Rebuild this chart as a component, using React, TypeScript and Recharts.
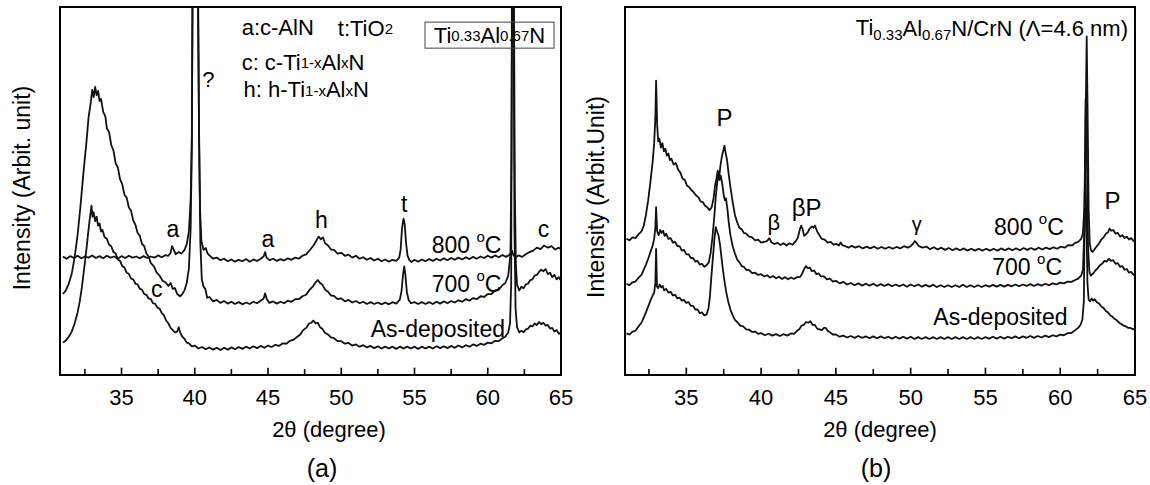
import React from "react";
import {
  Line,
  LineChart,
  ReferenceArea,
  ReferenceDot,
  ReferenceLine,
  XAxis,
  YAxis,
} from "recharts";

const FONT = '"Liberation Sans", Arial, Helvetica, sans-serif';

type Pt = [number, number];

// 2θ tick marks (degrees)
const majorTicks = [35, 40, 45, 50, 55, 60, 65];
const minorTicks = [32.5, 37.5, 42.5, 47.5, 52.5, 57.5, 62.5];

// (a) Ti0.33Al0.67N — [2θ, intensity (arb.)]
const a800: Pt[] = [
  [31.0, 32.2], [31.25, 31.6], [31.5, 32.3], [31.75, 31.8], [32.0, 32.4], [32.25, 31.7], [32.5, 32.2], [32.75, 31.9],
  [33.0, 32.5], [33.25, 31.8], [33.5, 32.3], [33.75, 31.7], [34.0, 32.4], [34.25, 31.9], [34.5, 32.2], [34.75, 31.6],
  [35.0, 32.3], [35.25, 31.8], [35.5, 32.4], [35.75, 31.9], [36.0, 32.2], [36.25, 31.7], [36.5, 32.3], [36.75, 31.8],
  [37.0, 32.2], [37.25, 31.9], [37.5, 32.5], [37.75, 32.0], [38.0, 32.6], [38.2, 32.4], [38.35, 33.2], [38.45, 35.0],
  [38.55, 34.2], [38.7, 32.8], [38.9, 33.4], [39.1, 33.0], [39.3, 34.0], [39.45, 35.5], [39.6, 39.0], [39.72, 48.0],
  [39.8, 65.0], [39.86, 110], [40.2, 110], [40.28, 70], [40.36, 45], [40.45, 36.5], [40.6, 34.0], [40.75, 34.5],
  [40.85, 33.2], [41.0, 32.5], [41.25, 31.6], [41.5, 31.9], [41.75, 31.2], [42.0, 31.6], [42.25, 30.9], [42.5, 31.4],
  [42.75, 30.8], [43.0, 31.3], [43.25, 30.9], [43.5, 31.5], [43.75, 30.8], [44.0, 31.4], [44.25, 31.0], [44.5, 31.6],
  [44.7, 32.2], [44.8, 33.4], [44.9, 31.9], [45.1, 31.2], [45.35, 31.6], [45.6, 31.0], [45.85, 31.5], [46.1, 31.1],
  [46.35, 31.7], [46.6, 31.3], [46.85, 31.9], [47.1, 31.6], [47.35, 32.4], [47.6, 32.8], [47.85, 33.9], [48.1, 35.2],
  [48.3, 36.5], [48.45, 37.6], [48.6, 36.9], [48.75, 37.4], [48.9, 35.8], [49.1, 35.2], [49.3, 34.1], [49.5, 34.0],
  [49.75, 33.0], [50.0, 33.2], [50.25, 32.4], [50.5, 32.7], [50.75, 31.9], [51.0, 32.4], [51.25, 31.6], [51.5, 32.0],
  [51.75, 31.3], [52.0, 31.8], [52.25, 31.1], [52.5, 31.6], [52.75, 30.9], [53.0, 31.4], [53.25, 30.8], [53.5, 31.3],
  [53.75, 31.0], [53.95, 31.8], [54.05, 34.0], [54.15, 40.0], [54.25, 42.5], [54.33, 41.0], [54.42, 36.0], [54.52, 32.5],
  [54.65, 31.2], [54.8, 30.7], [55.0, 31.3], [55.25, 30.8], [55.5, 31.4], [55.75, 30.9], [56.0, 31.5], [56.25, 31.0],
  [56.5, 31.6], [56.75, 31.1], [57.0, 31.7], [57.25, 31.2], [57.5, 31.8], [57.75, 31.3], [58.0, 31.9], [58.25, 31.4],
  [58.5, 32.0], [58.75, 31.5], [59.0, 32.1], [59.25, 31.6], [59.5, 32.2], [59.75, 31.8], [60.0, 32.4], [60.25, 31.9],
  [60.5, 32.5], [60.75, 32.0], [61.0, 32.6], [61.25, 32.1], [61.5, 32.7], [61.65, 33.8], [61.75, 32.6], [61.9, 32.0],
  [62.1, 32.5], [62.35, 32.1], [62.6, 32.8], [62.85, 33.4], [63.1, 33.8], [63.35, 34.6], [63.6, 34.2], [63.85, 35.2],
  [64.1, 34.6], [64.35, 35.0], [64.6, 34.1], [64.85, 34.6], [65.0, 34.2],
];

const a700: Pt[] = [
  [31.0, 22.0], [31.2, 23.0], [31.4, 24.8], [31.6, 27.5], [31.8, 32.0], [32.0, 38.0], [32.2, 46.0], [32.4, 55.0],
  [32.6, 63.0], [32.75, 70.0], [32.9, 74.0], [33.0, 77.5], [33.1, 75.5], [33.2, 78.3], [33.3, 76.0], [33.4, 77.2],
  [33.5, 74.5], [33.6, 75.0], [33.75, 71.5], [33.9, 70.2], [34.0, 67.0], [34.15, 66.0], [34.3, 62.5], [34.45, 61.0],
  [34.6, 57.5], [34.75, 56.4], [34.9, 53.2], [35.05, 51.8], [35.2, 49.0], [35.35, 48.2], [35.5, 45.5], [35.65, 44.6],
  [35.8, 42.0], [35.95, 40.8], [36.1, 38.6], [36.25, 37.8], [36.4, 35.6], [36.55, 35.0], [36.7, 33.0], [36.85, 32.2],
  [37.0, 30.4], [37.2, 29.6], [37.4, 27.8], [37.6, 27.0], [37.8, 25.6], [38.0, 25.2], [38.2, 24.2], [38.35, 25.0],
  [38.5, 23.4], [38.65, 23.6], [38.8, 22.0], [39.0, 21.4], [39.15, 22.0], [39.3, 23.0], [39.45, 25.0], [39.6, 29.0],
  [39.72, 40.0], [39.8, 62.0], [39.85, 110], [40.22, 110], [40.3, 62], [40.38, 36], [40.48, 26.0], [40.6, 24.0],
  [40.72, 23.4], [40.85, 21.0], [41.0, 21.2], [41.25, 20.0], [41.5, 20.4], [41.75, 19.6], [42.0, 20.1], [42.25, 19.4],
  [42.5, 19.9], [42.75, 19.3], [43.0, 19.8], [43.25, 19.2], [43.5, 19.7], [43.75, 19.3], [44.0, 19.9], [44.25, 19.5],
  [44.5, 20.2], [44.7, 20.8], [44.8, 22.2], [44.92, 20.6], [45.1, 19.6], [45.35, 20.0], [45.6, 19.4], [45.85, 19.9],
  [46.1, 19.5], [46.35, 20.2], [46.6, 19.9], [46.85, 20.6], [47.1, 20.6], [47.35, 21.4], [47.6, 21.8], [47.85, 23.2],
  [48.05, 24.0], [48.25, 25.2], [48.4, 25.8], [48.55, 25.0], [48.7, 24.6], [48.9, 23.2], [49.1, 22.6], [49.3, 21.6],
  [49.5, 21.5], [49.75, 20.6], [50.0, 20.8], [50.25, 20.0], [50.5, 20.4], [50.75, 19.7], [51.0, 20.1], [51.25, 19.5],
  [51.5, 19.9], [51.75, 19.3], [52.0, 19.8], [52.25, 19.3], [52.5, 19.7], [52.75, 19.2], [53.0, 19.7], [53.25, 19.2],
  [53.5, 19.8], [53.75, 19.4], [54.0, 20.5], [54.12, 23.0], [54.22, 27.5], [54.3, 29.5], [54.38, 27.0], [54.48, 22.5],
  [54.6, 20.4], [54.75, 19.5], [55.0, 19.8], [55.25, 19.3], [55.5, 19.8], [55.75, 19.3], [56.0, 19.8], [56.25, 19.3],
  [56.5, 19.9], [56.75, 19.4], [57.0, 20.0], [57.25, 19.5], [57.5, 20.1], [57.75, 19.7], [58.0, 20.3], [58.25, 19.9],
  [58.5, 20.6], [58.75, 20.2], [59.0, 20.9], [59.25, 20.6], [59.5, 21.4], [59.75, 21.2], [60.0, 22.0], [60.25, 22.0],
  [60.5, 23.0], [60.75, 23.2], [61.0, 24.4], [61.2, 25.0], [61.4, 27.0], [61.55, 33.0], [61.62, 60.0], [61.67, 110],
  [61.78, 110], [61.85, 50.0], [61.92, 30.0], [62.0, 24.5], [62.15, 23.0], [62.3, 24.0], [62.45, 23.6], [62.6, 24.6],
  [62.75, 24.8], [62.9, 25.8], [63.05, 26.0], [63.2, 27.0], [63.35, 27.2], [63.5, 28.0], [63.65, 28.6], [63.8, 28.2],
  [63.95, 28.8], [64.1, 27.4], [64.25, 27.8], [64.4, 26.6], [64.55, 27.2], [64.7, 26.0], [64.85, 26.6], [65.0, 25.6],
];

const aAsDep: Pt[] = [
  [31.0, 8.8], [31.2, 9.4], [31.4, 10.4], [31.6, 11.8], [31.8, 14.0], [32.0, 17.0], [32.15, 20.0], [32.3, 24.0],
  [32.45, 29.0], [32.6, 34.0], [32.72, 38.5], [32.82, 42.0], [32.9, 44.5], [32.95, 46.0], [33.02, 43.0], [33.1, 44.2],
  [33.2, 41.8], [33.3, 43.0], [33.4, 40.6], [33.5, 41.2], [33.6, 39.0], [33.7, 39.4], [33.85, 37.4], [34.0, 37.0],
  [34.15, 35.4], [34.3, 35.0], [34.45, 33.4], [34.6, 33.0], [34.75, 31.4], [34.9, 31.0], [35.05, 29.6], [35.2, 29.2],
  [35.35, 27.8], [35.5, 27.5], [35.65, 26.2], [35.8, 26.0], [35.95, 24.8], [36.1, 24.6], [36.25, 23.4], [36.4, 23.2],
  [36.55, 22.0], [36.7, 21.8], [36.85, 20.8], [37.0, 20.6], [37.15, 19.5], [37.3, 19.3], [37.45, 18.3], [37.6, 18.0],
  [37.75, 16.8], [37.9, 16.2], [38.05, 14.8], [38.2, 14.0], [38.35, 12.8], [38.5, 12.2], [38.65, 11.6], [38.8, 11.8],
  [38.9, 13.0], [39.0, 11.6], [39.15, 10.4], [39.3, 9.8], [39.45, 8.8], [39.6, 8.6], [39.8, 7.8], [40.0, 8.0],
  [40.25, 7.2], [40.5, 7.6], [40.75, 7.0], [41.0, 7.5], [41.25, 6.9], [41.5, 7.4], [41.75, 6.8], [42.0, 7.4],
  [42.25, 6.9], [42.5, 7.5], [42.75, 7.0], [43.0, 7.6], [43.25, 7.1], [43.5, 7.7], [43.75, 7.2], [44.0, 7.8],
  [44.25, 7.3], [44.5, 7.9], [44.75, 7.4], [45.0, 8.0], [45.25, 7.6], [45.5, 8.2], [45.75, 7.9], [46.0, 8.6],
  [46.25, 8.5], [46.5, 9.3], [46.75, 9.6], [47.0, 10.4], [47.2, 11.0], [47.4, 12.2], [47.6, 12.8], [47.8, 14.0],
  [47.95, 14.2], [48.1, 14.8], [48.25, 14.0], [48.4, 14.2], [48.55, 13.0], [48.7, 12.6], [48.9, 11.4], [49.1, 11.0],
  [49.3, 10.2], [49.5, 10.0], [49.75, 9.2], [50.0, 9.2], [50.25, 8.5], [50.5, 8.7], [50.75, 8.0], [51.0, 8.3],
  [51.25, 7.7], [51.5, 8.1], [51.75, 7.5], [52.0, 7.9], [52.25, 7.3], [52.5, 7.8], [52.75, 7.2], [53.0, 7.7],
  [53.25, 7.2], [53.5, 7.7], [53.75, 7.1], [54.0, 7.7], [54.25, 7.2], [54.5, 7.7], [54.75, 7.2], [55.0, 7.7],
  [55.25, 7.1], [55.5, 7.7], [55.75, 7.2], [56.0, 7.7], [56.25, 7.2], [56.5, 7.8], [56.75, 7.3], [57.0, 7.8],
  [57.25, 7.3], [57.5, 7.9], [57.75, 7.4], [58.0, 8.0], [58.25, 7.5], [58.5, 8.1], [58.75, 7.7], [59.0, 8.3],
  [59.25, 7.9], [59.5, 8.5], [59.75, 8.2], [60.0, 8.8], [60.25, 8.6], [60.5, 9.3], [60.75, 9.2], [61.0, 10.0],
  [61.2, 10.4], [61.4, 11.6], [61.52, 14.0], [61.6, 25.0], [61.65, 110], [61.76, 110], [61.82, 40.0], [61.9, 18.0],
  [62.0, 13.0], [62.15, 11.6], [62.3, 12.0], [62.45, 11.6], [62.6, 12.4], [62.75, 12.6], [62.9, 13.4], [63.05, 13.2],
  [63.2, 14.0], [63.35, 13.6], [63.5, 14.4], [63.65, 13.8], [63.8, 14.2], [63.95, 13.4], [64.1, 13.6], [64.25, 12.6],
  [64.4, 12.8], [64.55, 11.8], [64.7, 12.2], [64.85, 11.2], [65.0, 11.6],
];

// (b) Ti0.33Al0.67N/CrN (Λ=4.6 nm)
const b800: Pt[] = [
  [31.0, 37.0], [31.2, 36.6], [31.4, 37.4], [31.6, 37.2], [31.8, 38.2], [32.0, 39.0], [32.15, 40.5], [32.3, 43.5],
  [32.45, 47.5], [32.6, 52.5], [32.75, 58.0], [32.85, 63.0], [32.93, 70.0], [32.98, 80.0], [33.05, 68.0], [33.12, 63.5],
  [33.2, 64.2], [33.3, 61.8], [33.4, 63.0], [33.5, 60.8], [33.6, 61.5], [33.7, 59.6], [33.8, 60.2], [33.9, 58.4],
  [34.0, 58.8], [34.15, 57.2], [34.3, 57.6], [34.45, 55.8], [34.6, 55.0], [34.75, 53.4], [34.9, 53.0], [35.05, 51.4],
  [35.2, 51.0], [35.35, 50.2], [35.5, 49.6], [35.65, 48.8], [35.8, 48.4], [35.95, 47.2], [36.1, 47.0], [36.25, 46.0],
  [36.4, 45.6], [36.55, 44.8], [36.7, 45.6], [36.82, 48.0], [36.92, 51.5], [37.0, 53.0], [37.1, 55.5], [37.2, 54.0],
  [37.3, 57.5], [37.4, 59.8], [37.5, 61.5], [37.55, 62.3], [37.62, 60.5], [37.72, 58.5], [37.82, 55.0], [37.95, 51.0],
  [38.1, 47.0], [38.25, 43.5], [38.4, 41.5], [38.55, 40.0], [38.7, 39.6], [38.85, 38.6], [39.0, 38.4], [39.2, 37.6],
  [39.4, 37.4], [39.6, 36.6], [39.8, 36.8], [40.0, 36.0], [40.2, 36.2], [40.4, 36.4], [40.55, 37.2], [40.7, 36.0],
  [40.9, 35.6], [41.1, 35.9], [41.3, 35.3], [41.5, 35.8], [41.7, 35.2], [41.9, 35.8], [42.1, 35.4], [42.3, 36.3],
  [42.45, 37.2], [42.58, 39.4], [42.68, 40.6], [42.78, 39.6], [42.88, 37.8], [43.0, 38.2], [43.12, 38.8], [43.25, 39.8],
  [43.4, 40.4], [43.5, 40.0], [43.6, 40.6], [43.75, 39.0], [43.9, 38.0], [44.05, 37.0], [44.25, 36.8], [44.45, 36.0],
  [44.65, 36.2], [44.85, 35.4], [45.05, 35.6], [45.2, 35.2], [45.32, 36.0], [45.45, 35.2], [45.65, 35.0], [45.85, 34.6],
  [46.05, 35.1], [46.3, 34.6], [46.55, 35.0], [46.8, 34.4], [47.05, 34.9], [47.3, 34.4], [47.55, 34.9], [47.8, 34.3],
  [48.05, 34.8], [48.3, 34.3], [48.55, 34.8], [48.8, 34.3], [49.05, 34.8], [49.3, 34.4], [49.55, 35.0], [49.8, 34.6],
  [50.0, 35.0], [50.15, 35.6], [50.28, 36.4], [50.4, 35.9], [50.55, 35.0], [50.8, 34.6], [51.05, 34.9], [51.3, 34.2],
  [51.55, 34.7], [51.8, 34.1], [52.05, 34.6], [52.3, 34.0], [52.55, 34.5], [52.8, 33.9], [53.05, 34.4], [53.3, 33.9],
  [53.55, 34.4], [53.8, 33.8], [54.05, 34.3], [54.3, 33.8], [54.55, 34.3], [54.8, 33.8], [55.05, 34.3], [55.3, 33.8],
  [55.55, 34.3], [55.8, 33.8], [56.05, 34.4], [56.3, 33.9], [56.55, 34.4], [56.8, 33.9], [57.05, 34.4], [57.3, 33.9],
  [57.55, 34.5], [57.8, 34.0], [58.05, 34.5], [58.3, 34.0], [58.55, 34.6], [58.8, 34.1], [59.05, 34.6], [59.3, 34.2],
  [59.55, 34.7], [59.8, 34.3], [60.05, 34.9], [60.3, 34.6], [60.55, 35.3], [60.8, 35.2], [61.0, 35.9], [61.2, 36.2],
  [61.4, 37.0], [61.52, 38.5], [61.62, 46.0], [61.7, 70.0], [61.77, 92.0], [61.83, 72.0], [61.9, 45.0], [61.97, 36.0],
  [62.05, 34.0], [62.15, 33.4], [62.3, 34.2], [62.45, 35.0], [62.6, 35.8], [62.75, 36.8], [62.9, 37.4], [63.05, 38.4],
  [63.2, 38.8], [63.3, 39.8], [63.4, 39.2], [63.55, 39.4], [63.7, 38.4], [63.85, 38.6], [64.0, 37.6], [64.15, 38.0],
  [64.3, 37.2], [64.45, 37.6], [64.6, 36.8], [64.75, 37.2], [64.9, 36.4], [65.0, 36.8],
];

const b700: Pt[] = [
  [31.0, 24.8], [31.2, 24.4], [31.4, 25.2], [31.6, 25.4], [31.8, 26.4], [32.0, 27.2], [32.15, 28.6], [32.3, 30.0],
  [32.45, 31.6], [32.6, 33.4], [32.75, 35.2], [32.85, 37.0], [32.93, 40.0], [32.98, 45.6], [33.05, 39.0], [33.15, 38.0],
  [33.25, 39.4], [33.35, 38.6], [33.45, 39.2], [33.55, 37.8], [33.65, 38.4], [33.8, 37.0], [33.95, 37.2], [34.1, 36.0],
  [34.25, 36.2], [34.4, 35.0], [34.55, 35.0], [34.7, 33.8], [34.85, 34.0], [35.0, 32.8], [35.15, 32.8], [35.3, 31.8],
  [35.45, 31.8], [35.6, 30.8], [35.75, 31.0], [35.9, 30.0], [36.05, 30.2], [36.2, 29.4], [36.35, 29.8], [36.5, 30.6],
  [36.62, 33.0], [36.75, 37.5], [36.87, 43.0], [36.97, 48.5], [37.07, 52.5], [37.15, 54.5], [37.22, 53.0], [37.3, 54.2],
  [37.4, 52.0], [37.5, 49.0], [37.58, 47.5], [37.65, 48.0], [37.75, 45.0], [37.85, 41.0], [37.95, 38.0], [38.1, 35.0],
  [38.25, 33.0], [38.4, 31.4], [38.55, 30.6], [38.7, 29.6], [38.85, 29.4], [39.0, 28.6], [39.2, 28.5], [39.4, 27.7],
  [39.6, 27.8], [39.8, 27.2], [40.0, 27.4], [40.2, 26.8], [40.4, 27.1], [40.6, 26.5], [40.8, 26.9], [41.0, 26.3],
  [41.2, 26.7], [41.4, 26.1], [41.6, 26.6], [41.8, 26.0], [42.0, 26.5], [42.2, 26.1], [42.4, 26.6], [42.6, 26.6],
  [42.75, 27.6], [42.88, 28.8], [43.0, 29.6], [43.12, 29.0], [43.25, 29.2], [43.4, 28.2], [43.55, 28.4], [43.7, 27.4],
  [43.85, 27.6], [44.0, 26.8], [44.2, 26.8], [44.4, 26.0], [44.6, 26.2], [44.8, 25.4], [45.0, 25.6], [45.25, 24.9],
  [45.5, 25.3], [45.75, 24.6], [46.0, 25.0], [46.25, 24.4], [46.5, 24.9], [46.75, 24.3], [47.0, 24.8], [47.25, 24.3],
  [47.5, 24.8], [47.75, 24.2], [48.0, 24.7], [48.25, 24.2], [48.5, 24.7], [48.75, 24.1], [49.0, 24.6], [49.25, 24.1],
  [49.5, 24.6], [49.75, 24.0], [50.0, 24.6], [50.25, 24.1], [50.5, 24.6], [50.75, 24.0], [51.0, 24.5], [51.25, 24.0],
  [51.5, 24.5], [51.75, 23.9], [52.0, 24.4], [52.25, 23.9], [52.5, 24.4], [52.75, 23.9], [53.0, 24.4], [53.25, 23.9],
  [53.5, 24.5], [53.75, 23.9], [54.0, 24.4], [54.25, 23.9], [54.5, 24.4], [54.75, 23.9], [55.0, 24.4], [55.25, 24.0],
  [55.5, 24.5], [55.75, 24.0], [56.0, 24.5], [56.25, 24.0], [56.5, 24.5], [56.75, 24.1], [57.0, 24.6], [57.25, 24.1],
  [57.5, 24.6], [57.75, 24.2], [58.0, 24.7], [58.25, 24.2], [58.5, 24.7], [58.75, 24.3], [59.0, 24.8], [59.25, 24.4],
  [59.5, 24.9], [59.75, 24.6], [60.0, 25.1], [60.25, 24.9], [60.5, 25.4], [60.75, 25.3], [61.0, 25.8], [61.2, 26.2],
  [61.4, 27.0], [61.52, 28.6], [61.62, 40.0], [61.7, 75.0], [61.78, 60.0], [61.86, 35.0], [61.95, 28.0], [62.05, 27.0],
  [62.2, 27.6], [62.35, 28.4], [62.5, 29.0], [62.65, 29.8], [62.8, 30.2], [62.95, 31.0], [63.1, 30.8], [63.25, 31.6],
  [63.4, 31.0], [63.55, 31.2], [63.7, 30.2], [63.85, 30.4], [64.0, 29.4], [64.15, 29.6], [64.3, 28.6], [64.45, 28.8],
  [64.6, 27.8], [64.75, 28.0], [64.9, 27.2], [65.0, 27.4],
];

const bAsDep: Pt[] = [
  [31.0, 11.3], [31.2, 11.0], [31.4, 11.8], [31.6, 12.0], [31.8, 13.2], [32.0, 14.2], [32.15, 15.6], [32.3, 17.0],
  [32.45, 18.6], [32.6, 20.2], [32.75, 21.6], [32.85, 22.4], [32.93, 25.0], [32.98, 34.3], [33.04, 24.0], [33.12, 23.6],
  [33.22, 24.6], [33.32, 23.8], [33.42, 24.2], [33.52, 23.0], [33.65, 23.4], [33.8, 22.4], [33.95, 22.6], [34.1, 21.6],
  [34.25, 21.8], [34.4, 20.8], [34.55, 21.0], [34.7, 20.2], [34.85, 20.4], [35.0, 19.6], [35.15, 19.8], [35.3, 18.8],
  [35.45, 18.8], [35.6, 17.8], [35.75, 17.8], [35.9, 16.8], [36.05, 17.0], [36.2, 16.2], [36.35, 16.4], [36.48, 18.0],
  [36.58, 21.5], [36.68, 27.0], [36.78, 32.0], [36.88, 37.0], [36.97, 40.2], [37.05, 39.0], [37.15, 38.0], [37.25, 35.5],
  [37.35, 32.0], [37.45, 28.5], [37.55, 25.5], [37.67, 22.5], [37.8, 20.0], [37.95, 17.8], [38.1, 16.2], [38.25, 15.0],
  [38.4, 14.4], [38.6, 13.4], [38.8, 13.2], [39.0, 12.4], [39.2, 12.3], [39.4, 11.7], [39.6, 11.8], [39.8, 11.2],
  [40.0, 11.4], [40.25, 10.8], [40.5, 11.2], [40.75, 10.7], [41.0, 11.1], [41.25, 10.6], [41.5, 11.1], [41.75, 10.7],
  [42.0, 11.3], [42.2, 11.2], [42.4, 12.0], [42.55, 12.4], [42.7, 13.4], [42.85, 13.6], [43.0, 14.4], [43.15, 14.2],
  [43.3, 14.6], [43.45, 13.6], [43.6, 13.6], [43.75, 12.6], [43.9, 12.4], [44.05, 12.2], [44.2, 12.8], [44.32, 12.8],
  [44.45, 12.0], [44.6, 11.6], [44.8, 11.0], [45.0, 11.0], [45.25, 10.4], [45.5, 10.7], [45.75, 10.2], [46.0, 10.6],
  [46.25, 10.1], [46.5, 10.6], [46.75, 10.1], [47.0, 10.5], [47.25, 10.0], [47.5, 10.5], [47.75, 10.0], [48.0, 10.5],
  [48.25, 10.0], [48.5, 10.4], [48.75, 9.9], [49.0, 10.4], [49.25, 9.9], [49.5, 10.4], [49.75, 9.9], [50.0, 10.4],
  [50.25, 9.8], [50.5, 10.3], [50.75, 9.8], [51.0, 10.3], [51.25, 9.8], [51.5, 10.3], [51.75, 9.8], [52.0, 10.3],
  [52.25, 9.8], [52.5, 10.3], [52.75, 9.8], [53.0, 10.3], [53.25, 9.8], [53.5, 10.3], [53.75, 9.8], [54.0, 10.3],
  [54.25, 9.8], [54.5, 10.3], [54.75, 9.8], [55.0, 10.3], [55.25, 9.9], [55.5, 10.4], [55.75, 9.9], [56.0, 10.4],
  [56.25, 9.9], [56.5, 10.4], [56.75, 10.0], [57.0, 10.5], [57.25, 10.0], [57.5, 10.5], [57.75, 10.1], [58.0, 10.6],
  [58.25, 10.1], [58.5, 10.6], [58.75, 10.2], [59.0, 10.7], [59.25, 10.3], [59.5, 10.8], [59.75, 10.5], [60.0, 11.0],
  [60.25, 10.8], [60.5, 11.4], [60.75, 11.4], [61.0, 12.2], [61.2, 12.8], [61.35, 13.6], [61.48, 15.0], [61.58, 20.0],
  [61.66, 55.0], [61.74, 45.0], [61.82, 25.0], [61.9, 20.5], [62.0, 20.0], [62.1, 20.8], [62.2, 20.2], [62.3, 20.6],
  [62.45, 19.8], [62.6, 19.4], [62.75, 18.6], [62.9, 18.2], [63.05, 17.4], [63.2, 17.0], [63.35, 16.2], [63.5, 15.8],
  [63.65, 15.2], [63.8, 14.8], [63.95, 14.2], [64.1, 13.8], [64.25, 13.4], [64.4, 13.2], [64.55, 12.8], [64.7, 12.8],
  [64.85, 12.4], [65.0, 12.6],
];

const rows = (pts: Pt[]) => pts.map(([x, y]) => ({ x, y }));

type NoteOpts = {
  anchor?: "start" | "middle" | "end";
  size?: number;
  box?: { w: number; h: number };
};

// text placed at a data point; the dot itself is invisible
function note(key: string, x: number, y: number, body: React.ReactNode, opts: NoteOpts = {}) {
  const { anchor = "middle", size = 23, box } = opts;
  return (
    <ReferenceDot
      key={key}
      x={x}
      y={y}
      r={0}
      ifOverflow="visible"
      shape={(p: any) => (
        <g>
          {box && (
            <rect
              x={p.cx - box.w / 2}
              y={p.cy - box.h / 2}
              width={box.w}
              height={box.h}
              fill="none"
              stroke="#444"
              strokeWidth={1}
            />
          )}
          <text
            x={p.cx}
            y={p.cy}
            textAnchor={anchor}
            dominantBaseline="central"
            fontSize={size}
            fontFamily={FONT}
            fill="#000"
          >
            {body}
          </text>
        </g>
      )}
    />
  );
}

const degC = (t: string) => (
  <>
    {t + " "}
    <tspan fontSize={15} dy={-9}>o</tspan>
    <tspan dy={9}>C</tspan>
  </>
);

function Panel({
  domain,
  width,
  left,
  right,
  series,
  notes,
}: {
  domain: [number, number];
  width: number;
  left: number;
  right: number;
  series: Pt[][];
  notes: React.ReactNode[];
}) {
  return (
    <LineChart width={width} height={485} margin={{ top: 7, right, bottom: 80, left }}>
      <XAxis
        type="number"
        dataKey="x"
        domain={domain}
        allowDataOverflow
        ticks={majorTicks}
        interval={0}
        axisLine={false}
        tickLine={false}
        tickSize={6}
        tickMargin={8}
        tick={{ fontSize: 22, fill: "#000", fontFamily: FONT }}
      />
      <YAxis type="number" domain={[0, 100]} allowDataOverflow hide />
      {majorTicks.slice(0, -1).map((v) => (
        <ReferenceLine key={"M" + v} segment={[{ x: v, y: 0 }, { x: v, y: 2 }]} stroke="#000" strokeWidth={1.6} />
      ))}
      {minorTicks.map((v) => (
        <ReferenceLine key={"m" + v} segment={[{ x: v, y: 0 }, { x: v, y: 1.6 }]} stroke="#000" strokeWidth={1.6} />
      ))}
      {series.map((s, i) => (
        <Line
          key={i}
          data={rows(s)}
          dataKey="y"
          type="linear"
          stroke="#111"
          strokeWidth={1.8}
          strokeLinejoin="round"
          dot={false}
          activeDot={false}
          isAnimationActive={false}
        />
      ))}
      <ReferenceArea
        x1={domain[0]}
        x2={domain[1]}
        y1={0}
        y2={100}
        fill="none"
        stroke="#000"
        strokeWidth={2}
        ifOverflow="visible"
      />
      {notes}
    </LineChart>
  );
}

const small = (t: string) => <tspan fontSize={15}>{t}</tspan>;

const notesA = [
  note("leg1", 43.2, 94.3, <>a:c-AlN<tspan dx={24}>t:TiO</tspan>{small("2")}</>, { anchor: "start", size: 22 }),
  note("leg2", 43.2, 85, <>c: c-Ti{small("1-x")}Al{small("x")}N</>, { anchor: "start", size: 22 }),
  note("leg3", 43.33, 77.5, <>h: h-Ti{small("1-x")}Al{small("x")}N</>, { anchor: "start", size: 22 }),
  note("box", 60.12, 92.35, <>Ti{small("0.33")}Al{small("0.67")}N</>, { size: 22, box: { w: 129, h: 26 } }),
  note("q", 40.93, 80.2, "?", { size: 22 }),
  note("a1", 38.5, 39.7, "a"),
  note("a2", 45.0, 37, "a"),
  note("h", 48.65, 42, "h"),
  note("t", 54.3, 46.5, "t"),
  note("c1", 63.8, 39.7, "c"),
  note("c2", 37.4, 23.4, "c"),
  note("l800", 60.93, 35.2, degC("800"), { anchor: "end" }),
  note("l700", 60.93, 24.7, degC("700"), { anchor: "end" }),
  note("lAs", 61.18, 12.5, "As-deposited", { anchor: "end" }),
];

const sub = (t: string) => (
  <tspan fontSize={15} dy={6}>{t}</tspan>
);

const notesB = [
  note(
    "title",
    64.53,
    94.3,
    <>
      Ti{sub("0.33")}<tspan dy={-6}>Al</tspan>{sub("0.67")}<tspan dy={-6}>N/CrN (Λ=4.6 nm)</tspan>
    </>,
    { anchor: "end", size: 22 }
  ),
  note("P1", 37.56, 70, "P", { size: 24 }),
  note("b1", 40.85, 41.5, "β", { size: 22 }),
  note("bP", 43.05, 45.6, "βP", { size: 24 }),
  note("g", 50.4, 41, "γ", { size: 20 }),
  note("P2", 63.5, 47.4, "P", { size: 24 }),
  note("l800", 60.24, 40.2, degC("800"), { anchor: "end" }),
  note("l700", 60.12, 29.4, degC("700"), { anchor: "end" }),
  note("lAs", 60.49, 15.8, "As-deposited", { anchor: "end" }),
];

const textStyle: React.CSSProperties = {
  position: "absolute",
  fontFamily: FONT,
  color: "#000",
  whiteSpace: "nowrap",
  transform: "translate(-50%, -50%)",
  lineHeight: 1,
};

export default function App() {
  return (
    <div style={{ position: "absolute", left: 0, top: 0, width: 1150, height: 485, background: "#fff" }}>
      <div style={{ position: "absolute", left: 0, top: 0 }}>
        <Panel domain={[30.8, 65]} width={580} left={60} right={19} series={[a800, a700, aAsDep]} notes={notesA} />
      </div>
      <div style={{ position: "absolute", left: 580, top: 0 }}>
        <Panel domain={[30.9, 65]} width={570} left={45} right={15} series={[b800, b700, bAsDep]} notes={notesB} />
      </div>

      <div style={{ ...textStyle, left: 22, top: 188, fontSize: 23, transform: "translate(-50%, -50%) rotate(-90deg)" }}>
        Intensity (Arbit. unit)
      </div>
      <div style={{ ...textStyle, left: 596, top: 197, fontSize: 23, transform: "translate(-50%, -50%) rotate(-90deg)" }}>
        Intensity (Arbit.Unit)
      </div>
      <div style={{ ...textStyle, left: 329, top: 430, fontSize: 22 }}>2θ (degree)</div>
      <div style={{ ...textStyle, left: 880, top: 430, fontSize: 22 }}>2θ (degree)</div>
      <div style={{ ...textStyle, left: 322, top: 468, fontSize: 25 }}>(a)</div>
      <div style={{ ...textStyle, left: 876, top: 468, fontSize: 25 }}>(b)</div>
    </div>
  );
}
